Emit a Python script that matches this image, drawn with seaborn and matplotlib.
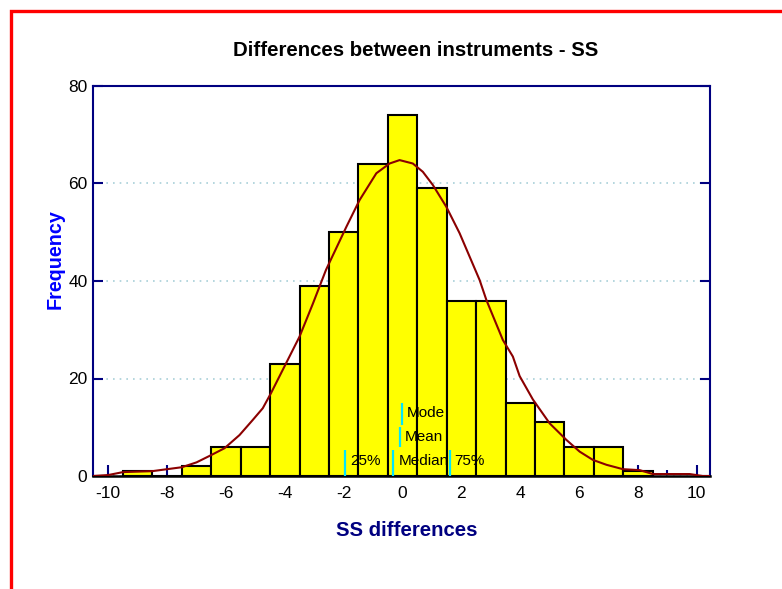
import numpy as np
import pandas as pd
import seaborn as sns
import matplotlib
matplotlib.use("Agg")
import matplotlib.pyplot as plt
from matplotlib.patches import Rectangle
from matplotlib.ticker import MultipleLocator

# ---- data ----
bin_centers = [-9, -8, -7, -6, -5, -4, -3, -2, -1, 0, 1, 2, 3, 4, 5, 6, 7, 8]
bin_counts = [1, 0, 2, 6, 6, 23, 39, 50, 64, 74, 59, 36, 36, 15, 11, 6, 6, 1]

curve_x = [-10.52, -10.0, -9.5, -8.5, -7.5, -7.0, -6.5, -6.05, -5.54, -5.09, -4.75,
           -4.47, -3.96, -3.5, -3.05, -2.6, -1.91, -1.46, -0.89, -0.44, -0.1, 0.35,
           0.69, 1.03, 1.49, 1.94, 2.28, 2.62, 2.85, 3.41, 3.75, 3.98, 4.43, 5.0,
           5.57, 6.02, 6.47, 6.93, 7.49, 8.06, 8.51, 9.76, 10.2, 10.45]
curve_y = [0.0, 0.2, 0.8, 1.0, 1.8, 2.8, 4.3, 5.7, 8.4, 11.5, 13.9,
           17.0, 23.1, 28.6, 35.3, 42.3, 51.1, 56.6, 62.1, 64.1, 64.8, 64.1,
           62.4, 59.7, 55.2, 49.8, 45.0, 40.2, 36.1, 27.9, 24.5, 20.5, 15.7, 10.8,
           7.4, 5.0, 3.3, 2.3, 1.4, 1.2, 0.4, 0.4, 0.0, 0.0]

stat_names = ["25%", "Median", "75%", "Mean", "Mode"]
stat_values = [-1.94, -0.31, 1.6, -0.1, -0.02]

title = "Differences between instruments - SS"
xlabel = "SS differences"
ylabel = "Frequency"
x_ticks = [-10, -8, -6, -4, -2, 0, 2, 4, 6, 8, 10]
y_ticks = [0, 20, 40, 60, 80]

# ---- figure ----
sns.set_theme(style="white")
plt.rcParams["font.family"] = ["Liberation Sans", "DejaVu Sans"]
plt.rcParams["axes.unicode_minus"] = False

W, H = 782, 589
fig = plt.figure(figsize=(W / 100, H / 100), dpi=100)
ax = fig.add_axes([93 / W, 1 - 476 / H, (710 - 93) / W, (476 - 86) / H])

df = pd.DataFrame({"x": bin_centers, "n": bin_counts})
sns.histplot(data=df, x="x", weights="n", binwidth=1, binrange=(-9.5, 8.5),
             color="#ffff00", edgecolor="black", linewidth=1.5, alpha=1,
             ax=ax, zorder=2)

cdf = pd.DataFrame({"x": curve_x, "y": curve_y})
sns.lineplot(data=cdf, x="x", y="y", sort=False, color="#8b0000", linewidth=1.5,
             ax=ax, zorder=4)

# stat markers (rows: bottom for quartiles/median, then mean, then mode)
rows = {"25%": (0.0, 5.3, 3.1), "Median": (0.0, 5.3, 3.1), "75%": (0.0, 5.3, 3.1),
        "Mean": (5.9, 10.1, 8.0), "Mode": (10.4, 15.0, 12.9)}
for name, val in zip(stat_names, stat_values):
    y0, y1, yt = rows[name]
    ax.plot([val, val], [y0, y1], color="#00e5ff", linewidth=1.6, zorder=5,
            solid_capstyle="butt")
    ax.text(val + 0.17, yt, name, fontsize=11, color="black", va="center",
            ha="left", zorder=6)

ax.set_xlim(-10.52, 10.45)
ax.set_ylim(0, 80)
ax.set_xticks(x_ticks)
ax.set_yticks(y_ticks)
ax.xaxis.set_minor_locator(MultipleLocator(1))
ax.set_xlabel("")
ax.set_ylabel("")
ax.set_axisbelow(True)
ax.yaxis.grid(True, linestyle=(0, (1, 3)), color="#a8d0d8", linewidth=1.2)
ax.xaxis.grid(False)

for side in ["left", "right", "top"]:
    ax.spines[side].set_color("#000080")
    ax.spines[side].set_linewidth(1.5)
ax.spines["bottom"].set_color("black")
ax.spines["bottom"].set_linewidth(1.8)

ax.tick_params(axis="x", which="major", direction="in", length=8, width=1.5,
               color="#000080", labelsize=12.5, labelcolor="black", pad=7,
               bottom=True, top=False)
ax.tick_params(axis="x", which="minor", direction="in", length=4, width=1.5,
               color="#000080", bottom=True, top=False)
ax.tick_params(axis="y", which="major", direction="in", length=7, width=1.5,
               color="#000080", labelsize=12.5, labelcolor="black", pad=4,
               left=True, right=True, labelright=False)

fig.text(415.5 / W, 1 - 50 / H, title, fontsize=14.7, fontweight="bold",
         color="black", ha="center", va="center")
fig.text(406.5 / W, 1 - 531 / H, xlabel, fontsize=14.7, fontweight="bold",
         color="#000080", ha="center", va="center")
fig.text(55 / W, 1 - 259 / H, ylabel, fontsize=14.2, fontweight="bold",
         color="#0000ff", ha="center", va="center", rotation=90)

# red frame around the chart area
fig.patches.append(Rectangle((11 / W, -0.2), 1.2, 1.2 - 11 / H,
                             transform=fig.transFigure, fill=False,
                             edgecolor="#ff0000", linewidth=2.4, zorder=10))

fig.savefig("out.png", dpi=100, facecolor="white")
